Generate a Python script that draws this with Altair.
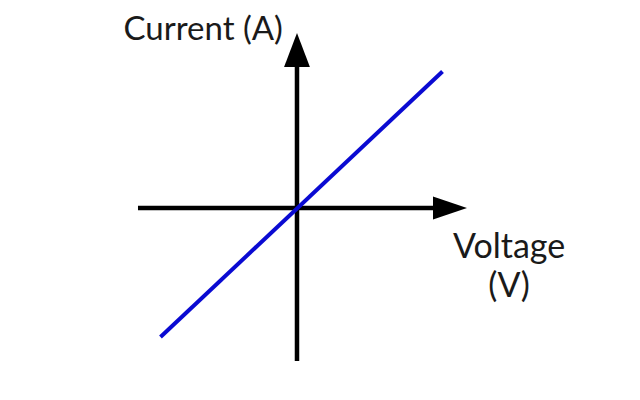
import altair as alt
import pandas as pd

# Data (diagram units, origin at the axes crossing)
voltage_axis_x = [-5.3, 4.6]
current_axis_y = [-5.1, 4.7]
iv_voltage = [-4.55, 4.85]
iv_current = [-4.3, 4.55]
arrow_x = [0.0, 5.1]
arrow_y = [5.27, 0.0]
arrow_shape = ["up", "right"]
label_text = ["Current (A)"]
label_x = [-0.47]
label_y = [5.6]
vlabel_text = ["Voltage", "(V)"]
vlabel_x = [7.07, 7.07]
vlabel_y = [-1.67, -2.95]

xs = alt.Scale(domain=[-9.633, 11.167], nice=False, zero=False)
ys = alt.Scale(domain=[-6.133, 6.667], nice=False, zero=False)

def X(f="x"):
    return alt.X(f"{f}:Q", scale=xs, axis=None)

def Y(f="y"):
    return alt.Y(f"{f}:Q", scale=ys, axis=None)

hax = pd.DataFrame({"x": voltage_axis_x, "y": [0, 0]})
vax = pd.DataFrame({"x": [0, 0], "y": current_axis_y})
iv = pd.DataFrame({"x": iv_voltage, "y": iv_current})
arr = pd.DataFrame({"x": arrow_x, "y": arrow_y, "s": arrow_shape})
lab = pd.DataFrame({"x": label_x, "y": label_y, "t": label_text})
vlab = pd.DataFrame({"x": vlabel_x, "y": vlabel_y, "t": vlabel_text})

axis_h = alt.Chart(hax).mark_line(color="black", strokeWidth=4.5, strokeCap="butt").encode(x=X(), y=Y())
axis_v = alt.Chart(vax).mark_line(color="black", strokeWidth=4.5, strokeCap="butt").encode(x=X(), y=Y())
line = alt.Chart(iv).mark_line(color="#0a0ad2", strokeWidth=4, strokeCap="butt").encode(x=X(), y=Y())

up = alt.Chart(arr[arr.s == "up"]).mark_point(
    shape="M0,-1L0.76,1L-0.76,1Z", size=1156, filled=True, color="black", opacity=1
).encode(x=X(), y=Y())
right = alt.Chart(arr[arr.s == "right"]).mark_point(
    shape="M1,0L-1,0.68L-1,-0.68Z", size=1156, filled=True, color="black", opacity=1
).encode(x=X(), y=Y())

t1 = alt.Chart(lab).mark_text(
    font="Lato", fontSize=33, align="right", baseline="alphabetic", color="#1a1a1a"
).encode(x=X(), y=Y(), text="t:N")
t2 = alt.Chart(vlab).mark_text(
    font="Lato", fontSize=34, align="center", baseline="alphabetic", color="#1a1a1a"
).encode(x=X(), y=Y(), text="t:N")

chart = alt.layer(axis_h, axis_v, line, up, right, t1, t2).properties(
    width=624, height=384, autosize=alt.AutoSizeParams(type="none"), padding=0,
    background="white"
).configure_view(stroke=None)

chart.save("out.html", embed_options={"renderer": "svg", "actions": False})
